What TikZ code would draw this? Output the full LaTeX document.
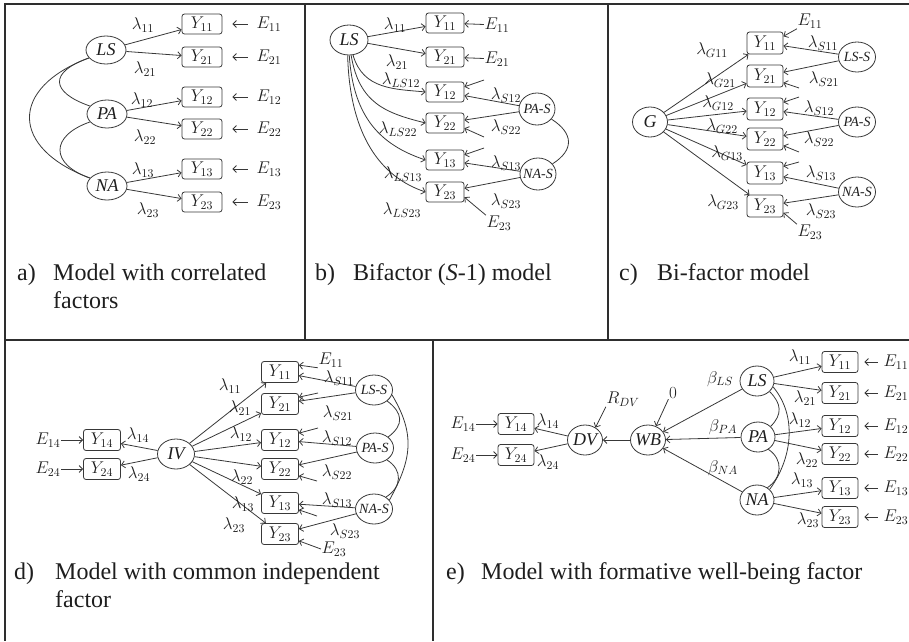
\RequirePackage{fix-cm}
\documentclass[tikz,border=0pt]{standalone}
\usepackage{fontspec}
\setmainfont{Liberation Serif}
\usetikzlibrary{shapes.geometric,arrows.meta}
\definecolor{ink}{HTML}{383838}
\definecolor{rulec}{HTML}{2E2E2E}
\definecolor{txt}{HTML}{1E1E1E}
% latent-variable names are centred without widening their ellipse
\newcommand{\latname}[1]{\makebox[0pt]{\itshape #1}}
\newcommand{\spname}[1]{\makebox[0pt]{\fontsize{14}{16}\selectfont\itshape #1}}
\begin{document}
\begin{tikzpicture}[x=1pt,y=-1pt,
  font=\fontsize{17}{20}\selectfont, text=txt,
  lat/.style={ellipse,draw=ink,line width=0.8pt,inner sep=0pt,minimum width=39pt,minimum height=29pt,font=\fontsize{18}{20}\selectfont},
  obs/.style={draw=ink,rounded corners=2.5pt,line width=0.8pt,minimum width=38pt,minimum height=20pt,inner sep=0pt},
  arr/.style={draw=ink,line width=0.8pt,-{Straight Barb[length=3.5pt,width=7pt]}},
  cov/.style={draw=ink,line width=0.8pt},
  lab/.style={inner sep=0.5pt},
  captxt/.style={anchor=base west,inner sep=0pt,font=\fontsize{24}{29}\selectfont},
  frame/.style={draw=rulec,line width=1.6pt}]
\useasboundingbox (0,0) rectangle (909,641);

% ---------- table rules ----------
\draw[frame] (909,4) -- (5,4) -- (5,641);
\draw[frame] (5,340) -- (909,340);
\draw[frame] (305,4) -- (305,340);
\draw[frame] (608,4) -- (608,340);
\draw[frame] (433,340) -- (433,641);

% ---------- a) correlated factors ----------
\node[lat,minimum width=40pt,minimum height=28pt] (LSa) at (106,50) {\latname{LS}};
\node[lat,minimum width=40pt,minimum height=28pt] (PAa) at (107,114) {\latname{PA}};
\node[lat,minimum width=40pt,minimum height=28pt] (NAa) at (107,186) {\latname{NA}};
\foreach \n/\y in {11/24,21/57,12/97,22/129,13/169,23/202} {
  \node[obs,minimum width=40pt] (Ya\n) at (202,\y) {$Y_{\n}$};
  \node[lab] (Ea\n) at (269,\y) {$E_{\n}$};
  \draw[arr,shorten <=8pt,shorten >=10pt] (Ea\n) -- (Ya\n);
}
\draw[arr] (LSa) -- (Ya11);
\draw[arr] (LSa) -- (Ya21);
\draw[arr] (PAa) -- (Ya12);
\draw[arr] (PAa) -- (Ya22);
\draw[arr] (NAa) -- (Ya13);
\draw[arr] (NAa) -- (Ya23);
\foreach \nm/\x/\y/\t in {la11/143/25/11,la21/145/69/21,la12/142/100/12,la22/145/137/22,la13/143/170/13,la23/148/210/23}
  \node[lab] (\nm) at (\x,\y) {$\lambda_{\t}$};
\draw[cov] (LSa.205) .. controls +(-40,14) and +(-40,-14) .. (PAa.155);
\draw[cov] (LSa.205) .. controls +(-80,30) and +(-80,-30) .. (NAa.155);
\draw[cov] (PAa.205) .. controls +(-40,14) and +(-40,-14) .. (NAa.155);
\node[captxt] (ka) at (17,280) {a)};
\node[captxt] (ta1) at (53,280) {Model with correlated};
\node[captxt] (ta2) at (53,308) {factors};

% ---------- b) bifactor (S-1) ----------
\node[lat,minimum width=38pt,minimum height=30pt] (LSb) at (349,40) {\latname{LS}};
\foreach \n/\y in {11/23,21/57,12/92,22/123,13/160,23/192}
  \node[obs] (Yb\n) at (445,\y) {$Y_{\n}$};
\node[lat,minimum width=36pt,minimum height=32pt] (PASb) at (537,109) {\spname{PA-S}};
\node[lat,minimum width=36pt,minimum height=32pt] (NASb) at (538,174) {\spname{NA-S}};
\node[lab] (Eb11) at (497,25) {$E_{11}$};
\node[lab] (Eb21) at (497,59) {$E_{21}$};
\draw[arr] (Eb11) -- (Yb11);
\draw[arr] (Eb21) -- (Yb21);
\coordinate (rb12) at (484,80);
\coordinate (rb22) at (484,137);
\coordinate (rb13) at (484,148);
\node[lab] (Eb23) at (499,223) {$E_{23}$};
\draw[arr] (rb12) -- (Yb12.15);
\draw[arr] (rb22) -- (Yb22.-15);
\draw[arr] (rb13) -- (Yb13.15);
\draw[arr] (Eb23.north west) -- (Yb23.-15);
\draw[arr] (LSb) -- (Yb11);
\draw[arr] (LSb) -- (Yb21);
\draw[arr] (LSb.285) .. controls +(10,35) and +(-30,-3) .. (Yb12.west);
\draw[arr] (LSb.278) .. controls +(8,48) and +(-40,-10) .. (Yb22.west);
\draw[arr] (LSb.271) .. controls +(4,62) and +(-45,-15) .. (Yb13.west);
\draw[arr] (LSb.265) .. controls +(2,80) and +(-45,-15) .. (Yb23.west);
\draw[arr] (PASb) -- (Yb12);
\draw[arr] (PASb) -- (Yb22);
\draw[arr] (NASb) -- (Yb13);
\draw[arr] (NASb) -- (Yb23);
\draw[cov] (PASb.-35) .. controls +(22,14) and +(22,-14) .. (NASb.35);
\foreach \nm/\x/\y/\t in {lb11/395/25/11,lb21/397/62/21,lb12/401/80/LS12,lb22/398/129/LS22,lb13/403/174/LS13,lb23/402/210/LS23,sb12/506/95/S12,sb22/506/127/S22,sb13/506/163/S13,sb23/506/201/S23}
  \node[lab] (\nm) at (\x,\y) {$\lambda_{\t}$};
\node[captxt] (kb) at (315,280) {b)};
\node[captxt] (tb1) at (353,280) {Bifactor (\textit{S}-1) model};

% ---------- c) bi-factor ----------
\node[lat,minimum width=35pt,minimum height=30pt] (Gc) at (650,122) {\latname{G}};
\foreach \n/\y in {11/43,21/76,12/109,22/139,13/173,23/206}
  \node[obs,minimum width=36pt,minimum height=22pt] (Yc\n) at (765,\y) {$Y_{\n}$};
\node[lat,minimum width=37pt,minimum height=30pt] (LSSc) at (857,57) {\spname{LS-S}};
\node[lat,minimum width=37pt,minimum height=30pt] (PASc) at (857,122) {\spname{PA-S}};
\node[lat,minimum width=37pt,minimum height=30pt] (NASc) at (857,192) {\spname{NA-S}};
\foreach \n in {11,21,12,22,13,23}
  \draw[arr] (Gc) -- (Yc\n);
\draw[arr] (LSSc) -- (Yc11);
\draw[arr] (LSSc) -- (Yc21);
\draw[arr] (PASc) -- (Yc12);
\draw[arr] (PASc) -- (Yc22);
\draw[arr] (NASc) -- (Yc13);
\draw[arr] (NASc) -- (Yc23);
\node[lab] (Ec11) at (810,21) {$E_{11}$};
\node[lab] (Ec23) at (810,232) {$E_{23}$};
\coordinate (rc21) at (799,88);
\coordinate (rc12) at (799,97);
\coordinate (rc22) at (799,152);
\coordinate (rc13) at (799,162);
\draw[arr] (Ec11.south west) -- (Yc11.20);
\draw[arr] (rc21) -- (Yc21.-20);
\draw[arr] (rc12) -- (Yc12.20);
\draw[arr] (rc22) -- (Yc22.-20);
\draw[arr] (rc13) -- (Yc13.20);
\draw[arr] (Ec23.north west) -- (Yc23.-20);
\foreach \nm/\x/\y/\t in {lc11/712/50/G11,lc21/720/80/G21,lc12/718/103/G12,lc22/722/126/G22,lc13/727/153/G13,lc23/723/202/G23,sc11/823/43/S11,sc21/824/79/S21,sc12/819/108/S12,sc22/819/139/S22,sc13/821/173/S13,sc23/821/211/S23}
  \node[lab] (\nm) at (\x,\y) {$\lambda_{\t}$};
\node[captxt] (kc) at (619,280) {c)};
\node[captxt] (tc1) at (657,280) {Bi-factor model};

% ---------- d) common independent factor ----------
\node[obs,minimum width=37pt,minimum height=21pt] (Yd14) at (102,440) {$Y_{14}$};
\node[obs,minimum width=37pt,minimum height=21pt] (Yd24) at (102,469) {$Y_{24}$};
\node[lab] (Ed14) at (48,440) {$E_{14}$};
\node[lab] (Ed24) at (48,469) {$E_{24}$};
\draw[arr] (Ed14) -- (Yd14);
\draw[arr] (Ed24) -- (Yd24);
\node[lat,minimum width=37pt,minimum height=30pt] (IVd) at (176,454) {\latname{IV}};
\draw[arr] (IVd) -- (Yd14);
\draw[arr] (IVd) -- (Yd24);
\foreach \n/\y in {11/372,21/404,12/440,22/469,13/503,23/534} {
  \node[obs,minimum width=37pt,minimum height=21pt] (Yd\n) at (280,\y) {$Y_{\n}$};
  \draw[arr] (IVd) -- (Yd\n);
}
\node[lat,minimum width=37pt,minimum height=30pt] (LSSd) at (374,390) {\spname{LS-S}};
\node[lat,minimum width=37pt,minimum height=30pt] (PASd) at (375,448) {\spname{PA-S}};
\node[lat,minimum width=37pt,minimum height=30pt] (NASd) at (374,509) {\spname{NA-S}};
\draw[arr] (LSSd) -- (Yd11);
\draw[arr] (LSSd) -- (Yd21);
\draw[arr] (PASd) -- (Yd12);
\draw[arr] (PASd) -- (Yd22);
\draw[arr] (NASd) -- (Yd13);
\draw[arr] (NASd) -- (Yd23);
\node[lab] (Ed11) at (331,360) {$E_{11}$};
\node[lab] (Ed23) at (334,549) {$E_{23}$};
\coordinate (rd21) at (318,393);
\coordinate (rd12) at (318,428);
\coordinate (rd22) at (317,481);
\coordinate (rd13) at (317,516);
\draw[arr] (Ed11.south west) -- (Yd11.20);
\draw[arr] (rd21) -- (Yd21.20);
\draw[arr] (rd12) -- (Yd12.20);
\draw[arr] (rd22) -- (Yd22.-20);
\draw[arr] (rd13) -- (Yd13.-20);
\draw[arr] (Ed23.west) -- (Yd23.-20);
\draw[cov] (LSSd.-40) .. controls +(16,12) and +(16,-12) .. (PASd.40);
\draw[cov] (PASd.-45) .. controls +(16,10) and +(16,-10) .. (NASd.45);
\draw[cov] (LSSd.-15) .. controls +(24,40) and +(22,-40) .. (NASd.30);
\foreach \nm/\x/\y/\t in {ld14/138/435/14,ld24/139/474/24,ld11/230/386/11,ld21/240/408/21,ld12/241/434/12,ld22/242/477/22,ld13/243/504/13,ld23/234/525/23,sd11/339/378/S11,sd21/338/413/S21,sd12/337/438/S12,sd22/337/472/S22,sd13/337/500/S13,sd23/345/531/S23}
  \node[lab] (\nm) at (\x,\y) {$\lambda_{\t}$};
\node[captxt] (kd) at (14,579) {d)};
\node[captxt] (td1) at (55,579) {Model with common independent};
\node[captxt] (td2) at (55,607) {factor};

% ---------- e) formative well-being factor ----------
\node[obs,minimum width=36pt,minimum height=21pt] (Ye14) at (516,424) {$Y_{14}$};
\node[obs,minimum width=36pt,minimum height=21pt] (Ye24) at (516,455) {$Y_{24}$};
\node[lab] (Ee14) at (463,424) {$E_{14}$};
\node[lab] (Ee24) at (463,455) {$E_{24}$};
\draw[arr] (Ee14) -- (Ye14);
\draw[arr] (Ee24) -- (Ye24);
\node[lat,minimum width=35pt,minimum height=30pt] (DVe) at (585,440) {\latname{DV}};
\node[lat,minimum width=35pt,minimum height=30pt] (WBe) at (648,440) {\latname{WB}};
\draw[arr] (DVe) -- (Ye14);
\draw[arr] (DVe) -- (Ye24);
\draw[arr] (WBe) -- (DVe);
\node[lab] (RDV) at (623,399) {$R_{DV}$};
\node[lab] (zero) at (673,393) {$0$};
\draw[arr] (RDV.south west) -- (DVe.50);
\draw[arr] (zero.south west) -- (WBe.60);
\node[lat,minimum width=34pt,minimum height=30pt] (LSe) at (757,381) {\latname{LS}};
\node[lat,minimum width=34pt,minimum height=30pt] (PAe) at (758,437) {\latname{PA}};
\node[lat,minimum width=34pt,minimum height=30pt] (NAe) at (757,500) {\latname{NA}};
\draw[arr] (LSe) -- (WBe);
\draw[arr] (PAe) -- (WBe);
\draw[arr] (NAe) -- (WBe);
\foreach \n/\y in {11/362,21/393,12/426,22/454,13/488,23/517} {
  \node[obs,minimum width=36pt,minimum height=21pt] (Ye\n) at (840,\y) {$Y_{\n}$};
  \node[lab] (Ee\n) at (896,\y) {$E_{\n}$};
  \draw[arr,shorten <=5pt,shorten >=6pt] (Ee\n) -- (Ye\n);
}
\draw[arr] (LSe) -- (Ye11);
\draw[arr] (LSe) -- (Ye21);
\draw[arr] (PAe) -- (Ye12);
\draw[arr] (PAe) -- (Ye22);
\draw[arr] (NAe) -- (Ye13);
\draw[arr] (NAe) -- (Ye23);
\draw[cov] (LSe.-40) .. controls +(12,12) and +(12,-12) .. (PAe.40);
\draw[cov] (PAe.-50) .. controls +(15,10) and +(15,-10) .. (NAe.50);
\draw[cov] (LSe.-20) .. controls +(25,30) and +(22,-30) .. (NAe.40);
\foreach \nm/\x/\y/\t in {le14/548/421/14,le24/548/462/24,le11/800/357/11,le21/805/398/21,le12/800/420/12,le22/807/460/22,le13/802/480/13,le23/808/520/23}
  \node[lab] (\nm) at (\x,\y) {$\lambda_{\t}$};
\node[lab] (bLS) at (720,379) {$\beta_{LS}$};
\node[lab] (bPA) at (723,427) {$\beta_{PA}$};
\node[lab] (bNA) at (723,468) {$\beta_{NA}$};
\node[captxt] (ke) at (446,579) {e)};
\node[captxt] (te1) at (481,579) {Model with formative well-being factor};
\end{tikzpicture}
\end{document}
